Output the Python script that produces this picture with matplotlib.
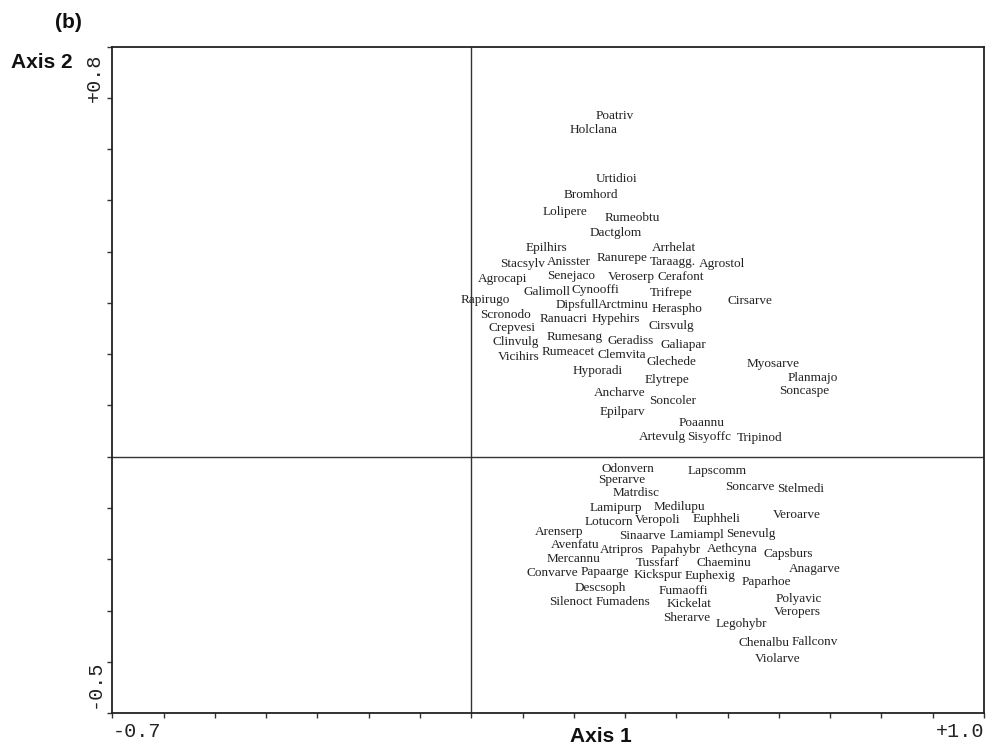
#!/usr/bin/env python3
"""
Species ordination biplot, panel (b): Axis 1 vs Axis 2
"""

import matplotlib
matplotlib.use("Agg")
import matplotlib.pyplot as plt
from matplotlib.ticker import MultipleLocator

# Species abbreviations and their scores on the first two axes
upper_species = ["Poatriv", "Holclana", "Urtidioi", "Bromhord", "Lolipere", "Rumeobtu",
                 "Dactglom", "Epilhirs", "Arrhelat", "Stacsylv", "Anisster", "Ranurepe",
                 "Taraagg.", "Agrostol", "Agrocapi", "Senejaco", "Veroserp", "Cerafont",
                 "Galimoll", "Cynooffi", "Rapirugo", "Trifrepe", "Cirsarve", "Dipsfull",
                 "Arctminu", "Scronodo", "Heraspho", "Ranuacri", "Hypehirs", "Crepvesi",
                 "Cirsvulg", "Clinvulg", "Rumesang", "Geradiss", "Galiapar", "Vicihirs",
                 "Rumeacet", "Clemvita", "Glechede", "Myosarve", "Hyporadi", "Planmajo",
                 "Elytrepe", "Soncaspe", "Ancharve", "Soncoler", "Epilparv", "Poaannu",
                 "Artevulg", "Sisyoffc", "Tripinod"]
upper_axis1 = [0.280, 0.239, 0.284, 0.233, 0.182, 0.315,
               0.282, 0.147, 0.395, 0.101, 0.190, 0.294,
               0.393, 0.489, 0.062, 0.194, 0.313, 0.409,
               0.147, 0.243, 0.028, 0.389, 0.543, 0.206,
               0.296, 0.067, 0.401, 0.181, 0.282, 0.079,
               0.391, 0.087, 0.202, 0.311, 0.414, 0.093,
               0.190, 0.293, 0.391, 0.588, 0.247, 0.666,
               0.381, 0.650, 0.290, 0.393, 0.294, 0.450,
               0.373, 0.463, 0.563]
upper_axis2 = [0.665, 0.637, 0.542, 0.511, 0.477, 0.466,
               0.436, 0.407, 0.407, 0.376, 0.380, 0.388,
               0.380, 0.376, 0.347, 0.353, 0.351, 0.351,
               0.321, 0.325, 0.306, 0.319, 0.304, 0.296,
               0.296, 0.276, 0.288, 0.269, 0.269, 0.251,
               0.255, 0.224, 0.234, 0.226, 0.218, 0.195,
               0.204, 0.198, 0.185, 0.181, 0.167, 0.154,
               0.150, 0.128, 0.124, 0.109, 0.087, 0.066,
               0.038, 0.038, 0.036]

lower_species = ["Odonvern", "Lapscomm", "Sperarve", "Soncarve", "Stelmedi", "Matrdisc",
                 "Lamipurp", "Medilupu", "Veroarve", "Lotucorn", "Veropoli", "Euphheli",
                 "Arenserp", "Sinaarve", "Lamiampl", "Senevulg", "Avenfatu", "Atripros",
                 "Papahybr", "Aethcyna", "Capsburs", "Mercannu", "Tussfarf", "Chaeminu",
                 "Anagarve", "Convarve", "Papaarge", "Kickspur", "Euphexig", "Paparhoe",
                 "Descsoph", "Fumaoffi", "Polyavic", "Silenoct", "Fumadens", "Kickelat",
                 "Veropers", "Sherarve", "Legohybr", "Chenalbu", "Fallconv", "Violarve"]
lower_axis1 = [0.305, 0.479, 0.294, 0.543, 0.642, 0.321,
               0.282, 0.405, 0.634, 0.268, 0.364, 0.479,
               0.171, 0.334, 0.440, 0.545, 0.202, 0.294,
               0.398, 0.510, 0.619, 0.200, 0.364, 0.492,
               0.670, 0.159, 0.260, 0.364, 0.465, 0.576,
               0.251, 0.414, 0.638, 0.194, 0.296, 0.424,
               0.636, 0.420, 0.527, 0.570, 0.670, 0.598]
lower_axis2 = [-0.024, -0.028, -0.045, -0.059, -0.062, -0.071,
               -0.100, -0.098, -0.114, -0.127, -0.124, -0.122,
               -0.147, -0.155, -0.153, -0.151, -0.172, -0.182,
               -0.182, -0.180, -0.190, -0.200, -0.208, -0.208,
               -0.219, -0.227, -0.225, -0.231, -0.233, -0.245,
               -0.256, -0.262, -0.278, -0.284, -0.284, -0.288,
               -0.303, -0.315, -0.327, -0.364, -0.362, -0.395]

# Axis ranges (shown as end labels, as CanoDraw does)
x_range = (-0.7, 1.0)
y_range = (-0.5, 0.8)
x_end_labels = ["-0.7", "+1.0"]
y_end_labels = ["-0.5", "+0.8"]


def make_plot():
    fig = plt.figure(figsize=(9.89, 7.47), dpi=100)
    ax = fig.add_axes([0.1135, 0.0455, 0.8815, 0.892])

    ax.set_xlim(*x_range)
    ax.set_ylim(*y_range)

    # zero lines
    ax.axvline(0, color="#333333", lw=1.0, zorder=1)
    ax.axhline(0, color="#333333", lw=1.0, zorder=1)

    names = upper_species + lower_species
    xs = upper_axis1 + lower_axis1
    ys = upper_axis2 + lower_axis2
    for name, x, y in zip(names, xs, ys):
        ax.text(x, y, name, ha="center", va="center", fontsize=9.5,
                family="Liberation Serif", color="#222222")

    # frame: only bottom/left ticks, pointing outwards
    for side in ax.spines.values():
        side.set_linewidth(1.3)
        side.set_color("#222222")
    ax.xaxis.set_major_locator(MultipleLocator(0.1))
    ax.yaxis.set_major_locator(MultipleLocator(0.1))
    ax.tick_params(direction="out", length=3.5, width=1, color="#333333",
                   labelbottom=False, labelleft=False, top=False, right=False)

    mono = dict(family="Liberation Mono", fontsize=14.5, color="#222222")
    ax.text(0, -0.013, x_end_labels[0], transform=ax.transAxes,
            ha="left", va="top", **mono)
    ax.text(1, -0.013, x_end_labels[1], transform=ax.transAxes,
            ha="right", va="top", **mono)
    ax.text(-0.01, 0.007, y_end_labels[0], transform=ax.transAxes, rotation=90,
            ha="right", va="bottom", **mono)
    ax.text(-0.01, 0.99, y_end_labels[1], transform=ax.transAxes, rotation=90,
            ha="right", va="top", **mono)

    bold = dict(family="Liberation Sans", fontsize=15, fontweight="bold", color="#111111")
    fig.text(601 / 989, 1 - 737 / 747, "Axis 1", ha="center", va="center", **bold)
    fig.text(42 / 989, 1 - 62 / 747, "Axis 2", ha="center", va="center", **bold)
    fig.text(68 / 989, 1 - 22 / 747, "(b)", ha="center", va="center", **bold)

    fig.savefig("out.png", dpi=100)


if __name__ == "__main__":
    make_plot()
